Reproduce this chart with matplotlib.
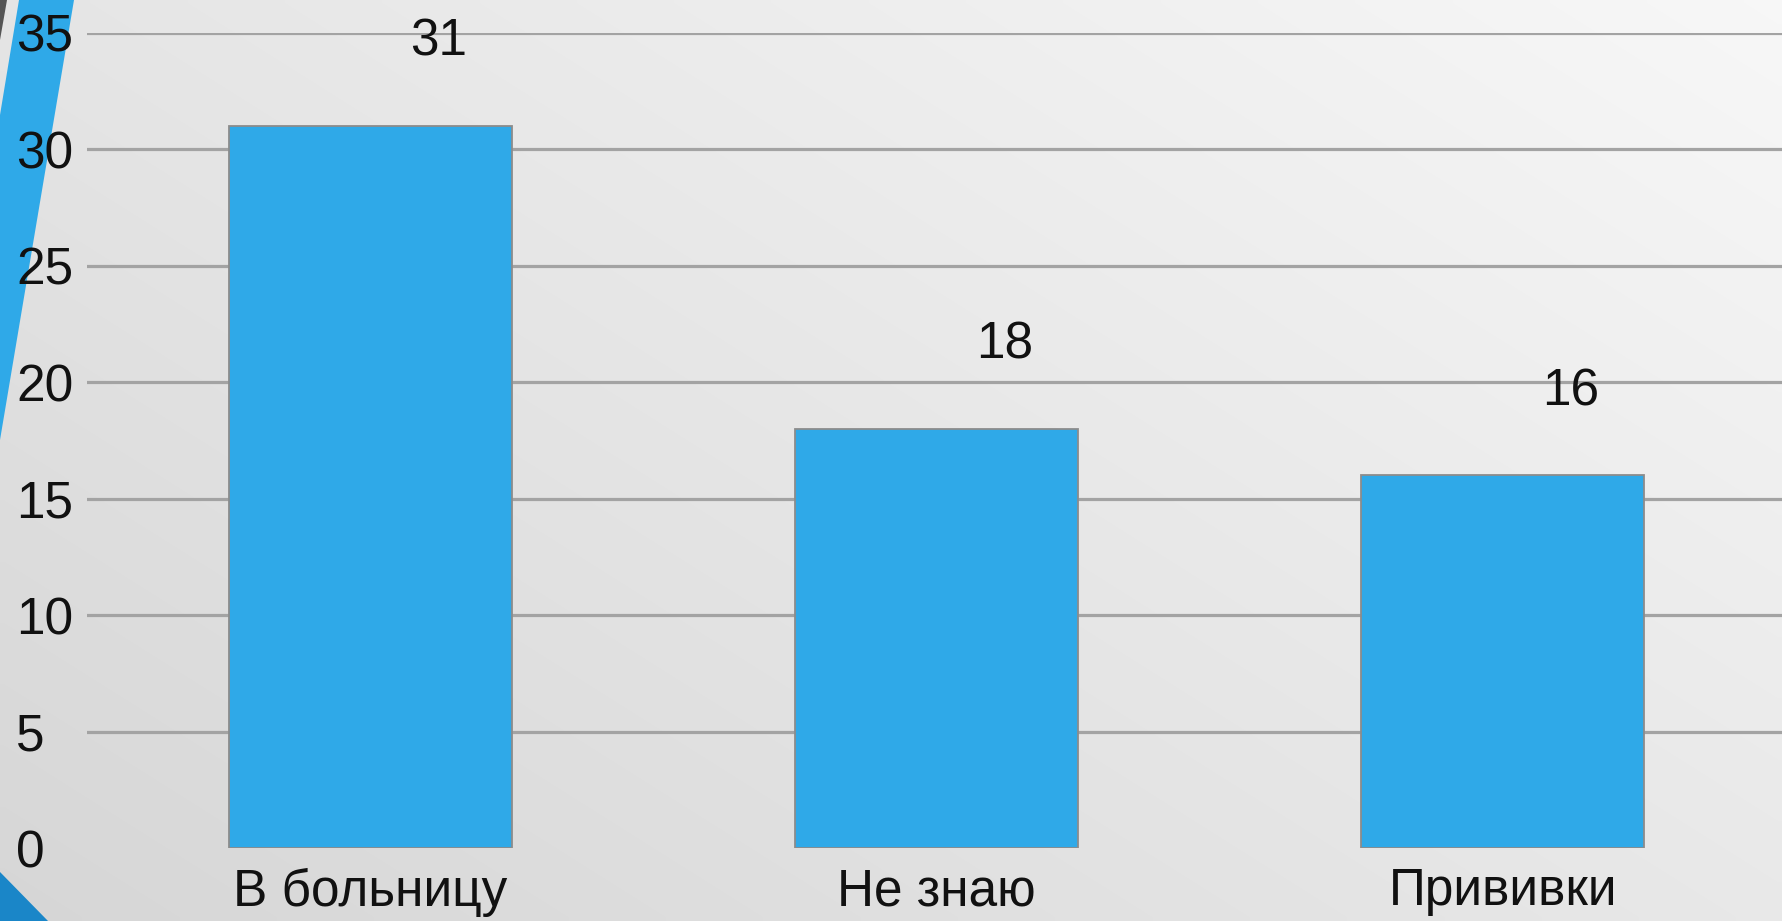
import numpy as np
import matplotlib
matplotlib.use("Agg")
import matplotlib.pyplot as plt
from matplotlib.patches import Polygon

plt.rcParams['font.family'] = ['Liberation Sans', 'DejaVu Sans']

# данные
categories = ["В больницу", "Не знаю", "Прививки"]
values = [31, 18, 16]
yticks = [0, 5, 10, 15, 20, 25, 30, 35]

W, H = 1783, 921
fig = plt.figure(figsize=(W / 100, H / 100), dpi=100)

# фон с градиентом и синие полосы слайда
bg = fig.add_axes([0, 0, 1, 1], zorder=0)
gx = np.linspace(0, 1, 200)
gy = np.linspace(0, 1, 120)
GX, GY = np.meshgrid(gx, gy)
shade = 0.84 + 0.13 * (0.55 * GX + 0.45 * (1 - GY))
bg.imshow(np.dstack([shade] * 3), extent=[0, W, H, 0], aspect='auto', interpolation='bilinear')
bg.add_patch(Polygon([(19, 0), (74, 0), (0, 440), (0, 115)], closed=True, color='#2fa9e8', lw=0))
bg.add_patch(Polygon([(0, 0), (7, 0), (0, 40)], closed=True, color='#555555', lw=0))
bg.add_patch(Polygon([(0, 872), (48, 921), (0, 921)], closed=True, color='#1a86c8', lw=0))
bg.set_xlim(0, W)
bg.set_ylim(H, 0)
bg.axis('off')

# сам график
ax = fig.add_axes([87 / W, 73 / H, (1786 - 87) / W, (848 - 33) / H], zorder=1)
ax.patch.set_alpha(0)
x = np.arange(len(categories))
for t in yticks[1:]:
    ax.axhline(t, color='#a3a3a3', lw=2.3, zorder=1)
ax.bar(x, values, width=0.5, color='#2fa9e8', edgecolor='#8c8c8c', linewidth=1.3, zorder=2)

for xi, v in zip(x, values):
    ax.text(xi + 0.12, v + 3.6, str(v), ha='center', va='center', fontsize=37, color='#111111')

ax.set_xlim(-0.5, 2.5)
ax.set_ylim(0, 35)
ax.set_xticks(x)
ax.set_xticklabels(categories, fontsize=37, color='#111111')
ax.set_yticks(yticks)
ax.set_yticklabels([str(t) for t in yticks], fontsize=37, color='#111111')
for lab in ax.get_yticklabels():
    lab.set_ha('left')
ax.tick_params(axis='y', length=0, pad=51)
ax.tick_params(axis='x', length=0, pad=14)
for s in ax.spines.values():
    s.set_visible(False)

fig.savefig("out.png", dpi=100)
